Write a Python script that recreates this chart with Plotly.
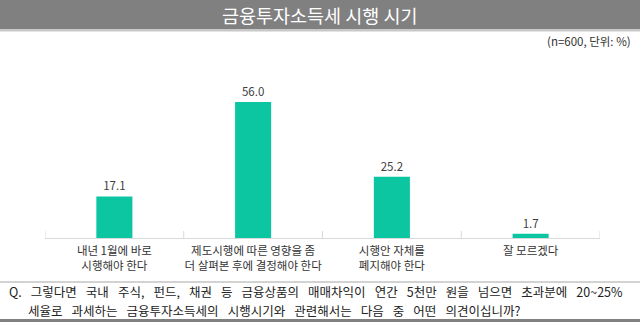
import plotly.graph_objects as go

W, H = 640, 322

categories = [
    "내년 1월에 바로<br>시행해야 한다",
    "제도시행에 따른 영향을 좀<br>더 살펴본 후에 결정해야 한다",
    "시행안 자체를<br>폐지해야 한다",
    "잘 모르겠다",
]
values = [17.1, 56.0, 25.2, 1.7]
value_labels = ["17.1", "56.0", "25.2", "1.7"]

title_text = "금융투자소득세 시행 시기"
unit_text = "(n=600, 단위: %)"
question_lines = [
    "Q. 그렇다면 국내 주식, 펀드, 채권 등 금융상품의 매매차익이 연간 5천만 원을 넘으면 초과분에 20~25%",
    "세율로 과세하는 금융투자소득세의 시행시기와 관련해서는 다음 중 어떤 의견이십니까?",
]

FONT = "Noto Sans CJK KR"
BAR = "#0cc6a1"


def px(x):
    return x / W


def py(y):
    return 1 - y / H


def wide_spaces(s):
    # widen word gaps so the question sets loosely
    return s.replace(" ", "\u2002 ")


fig = go.Figure(
    go.Bar(
        x=list(range(len(categories))),
        y=values,
        width=0.26,
        marker=dict(color=BAR, line=dict(width=0)),
        text=value_labels,
        textposition="outside",
        textfont=dict(family=FONT, size=11.5, color="#404040"),
        cliponaxis=False,
        hoverinfo="skip",
    )
)

fig.update_layout(
    width=W,
    height=H,
    margin=dict(l=0, r=0, t=0, b=0),
    paper_bgcolor="white",
    plot_bgcolor="white",
    showlegend=False,
    font=dict(family=FONT, color="#333333"),
    xaxis=dict(
        domain=[px(45), px(600)],
        range=[-0.5, 3.5],
        tickmode="array",
        tickvals=list(range(len(categories))),
        ticktext=categories,
        tickfont=dict(family=FONT, size=11.5, color="#333333"),
        ticklabelstandoff=2,
        showgrid=False,
        zeroline=False,
        showline=True,
        linecolor="#d9d9d9",
        linewidth=1,
        ticks="",
        fixedrange=True,
    ),
    yaxis=dict(
        domain=[py(238), py(68)],
        range=[0, 70],
        visible=False,
        fixedrange=True,
    ),
    shapes=[
        # header band
        dict(type="rect", xref="paper", yref="paper", x0=0, x1=1,
             y0=py(29), y1=1, fillcolor="#808080", line=dict(width=0), layer="below"),
        dict(type="rect", xref="paper", yref="paper", x0=0, x1=1,
             y0=py(31.5), y1=py(29), fillcolor="#c8c8c8", line=dict(width=0), layer="below"),
        # separator above the question
        dict(type="line", xref="paper", yref="paper", x0=0, x1=1,
             y0=py(282), y1=py(282), line=dict(color="#a6a6a6", width=1)),
        # footer band
        dict(type="rect", xref="paper", yref="paper", x0=0, x1=1,
             y0=0, y1=py(319), fillcolor="#808080", line=dict(width=0)),
    ]
    # category boundary ticks rising from the axis line
    + [
        dict(type="line", xref="x", yref="paper", x0=b, x1=b,
             y0=py(238), y1=py(231), line=dict(color="#d9d9d9", width=1))
        for b in [-0.5, 0.5, 1.5, 2.5, 3.5]
    ],
    annotations=[
        dict(text=title_text, xref="paper", yref="paper", x=0.5, y=py(15),
             xanchor="center", yanchor="middle", showarrow=False,
             font=dict(family=FONT, size=18.5, color="white")),
        dict(text=unit_text, xref="paper", yref="paper", x=px(633), y=py(41),
             xanchor="right", yanchor="middle", showarrow=False,
             font=dict(family=FONT, size=11.5, color="#333333")),
        dict(text=wide_spaces(question_lines[0]), xref="paper", yref="paper",
             x=px(7), y=py(291.5), xanchor="left", yanchor="middle",
             showarrow=False, font=dict(family=FONT, size=12.5, color="#222222")),
        dict(text=wide_spaces(question_lines[1]), xref="paper", yref="paper",
             x=px(26), y=py(310), xanchor="left", yanchor="middle",
             showarrow=False, font=dict(family=FONT, size=12.5, color="#222222")),
    ],
)

fig.write_html("out.html")
